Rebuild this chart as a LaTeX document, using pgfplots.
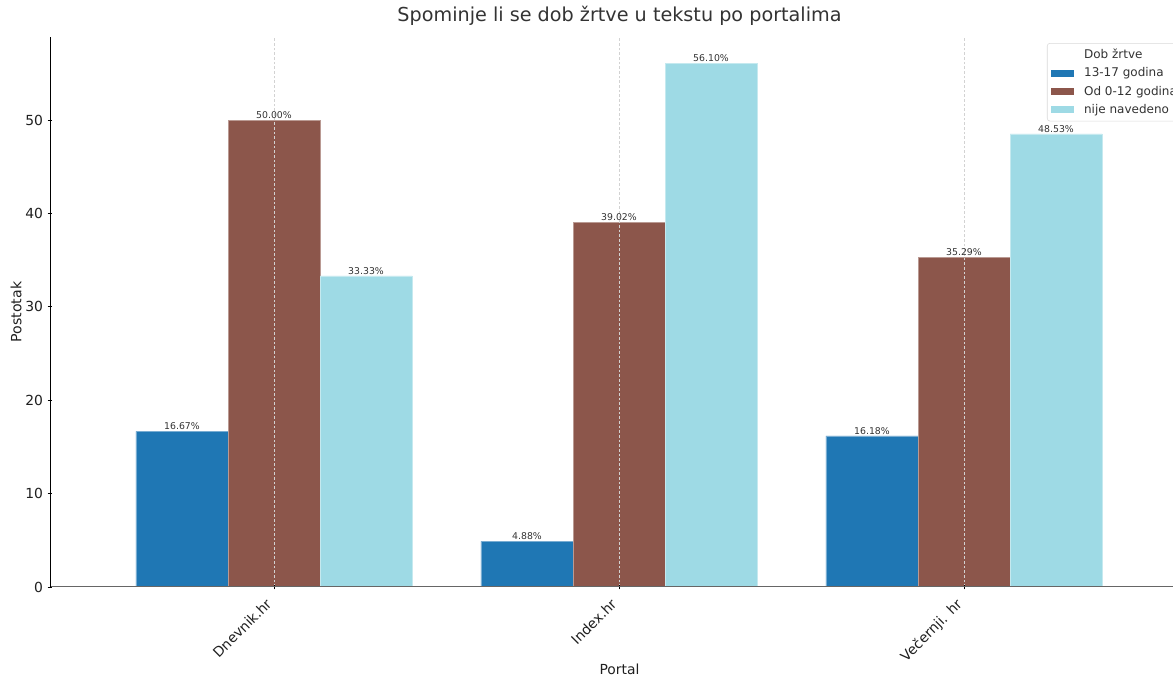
\documentclass[border=0pt]{standalone}
\usepackage{pgfplots}
\pgfplotsset{compat=1.18}
\usepackage{fontspec}
\setmainfont{DejaVu Sans}
\definecolor{cblue}{HTML}{1F77B4}
\definecolor{cbrown}{HTML}{8C564B}
\definecolor{ccyan}{HTML}{9EDAE5}
\definecolor{txt}{HTML}{333333}
\begin{document}
\begin{tikzpicture}
\begin{axis}[
  name=ax,
  scale only axis,
  width=854.25pt, height=412.5pt,
  xmin=-0.6493, xmax=2.6522,
  ymin=0, ymax=58.9,
  ybar, bar width=0.2667,
  xtick={0,1,2},
  xticklabels={Dnevnik.hr,Index.hr,{Večernji. hr}},
  xticklabel style={rotate=45, anchor=north east, inner sep=1pt, xshift=-8pt, yshift=1.5pt, font=\fontsize{10.4}{12}\selectfont, text=txt!60!black},
  ytick={0,10,20,30,40,50},
  yticklabel style={font=\fontsize{10.4}{12}\selectfont, text=txt!60!black},
  /pgf/number format/assume math mode=true,
  tick pos=left,
  tick align=outside,
  major tick length=3.5pt,
  tick style={black, line width=0.6pt},
  axis lines=left,
  axis line style={-, line width=0.75pt},
  x axis line style={black!60},
  xmajorgrids,
  major grid style={gray!35, line width=0.4pt, dash pattern=on 2pt off 1.5pt},
  axis on top,
  xlabel={Portal},
  ylabel={Postotak},
  xlabel style={at={(axis description cs:0.5,0)}, anchor=center, yshift=-62pt, font=\fontsize{10.4}{12}\selectfont, text=txt!60!black},
  ylabel style={at={(axis description cs:-0.02985,0.5)}, anchor=center, font=\fontsize{10.6}{12}\selectfont, text=txt!60!black},
  title={Spominje li se dob žrtve u tekstu po portalima},
  title style={at={(axis description cs:0.5,1)}, anchor=center, yshift=9.75pt, font=\fontsize{14.4}{17}\selectfont, text=txt},
  nodes near coords={\pgfmathprintnumber[fixed,precision=2,fixed zerofill]{\pgfplotspointmeta}\%},
  nodes near coords style={font=\fontsize{7}{8}\selectfont, text=txt, anchor=south, inner sep=1pt},
  legend style={at={(0.8753,0.989)}, anchor=north west, draw=black!15, rounded corners=2pt,
     font=\fontsize{9}{11}\selectfont, text=txt, row sep=1.2pt, inner xsep=3pt, inner ysep=2.5pt},
  legend cell align=left,
  legend image code/.code={\fill[#1, draw=none, sharp corners] (0pt,-2.9pt) rectangle (17.25pt,2.9pt); \path (22.5pt,0pt);},
]
\addlegendimage{empty legend}
\addlegendentry{Dob žrtve}
\addplot[fill=cblue, draw=cblue!60!white, line width=0.3pt, bar shift=-0.2667] coordinates {(0,16.67) (1,4.88) (2,16.18)};
\addlegendentry{13-17 godina}
\addplot[fill=cbrown, draw=cbrown!60!white, line width=0.3pt, bar shift=0] coordinates {(0,50.00) (1,39.02) (2,35.29)};
\addlegendentry{Od 0-12 godina}
\addplot[fill=ccyan, draw=ccyan!60!white, line width=0.3pt, bar shift=0.2667] coordinates {(0,33.33) (1,56.10) (2,48.53)};
\addlegendentry{nije navedeno}
\end{axis}
\pgfresetboundingbox
\path[use as bounding box] ([xshift=-37.5pt, yshift=-67.5pt]ax.south west) rectangle ++(879.75pt,507.75pt);
\end{tikzpicture}
\end{document}
